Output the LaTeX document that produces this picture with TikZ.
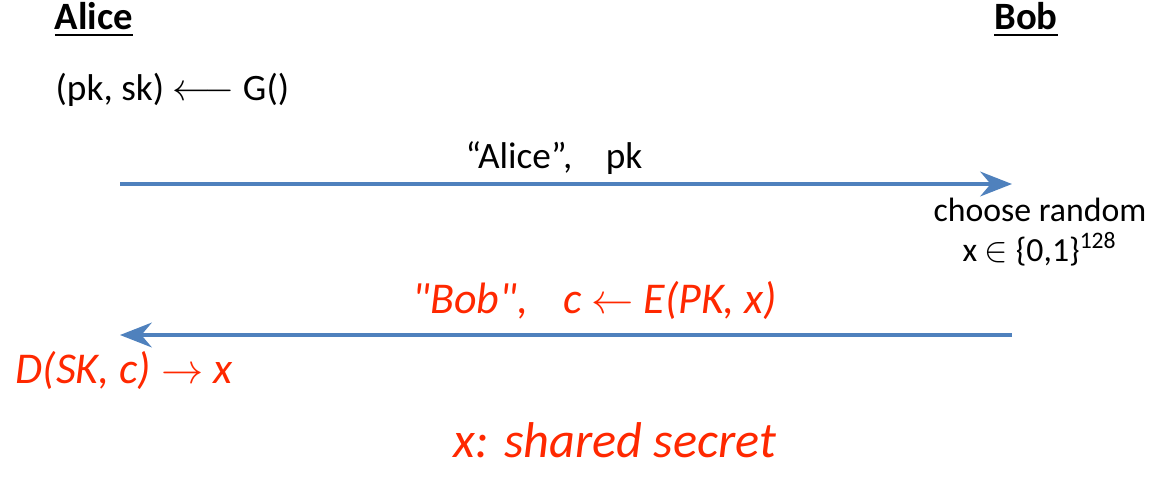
\documentclass[tikz,border=0pt]{standalone}
\usepackage{fontspec}
\setmainfont{Carlito}
\newfontfamily\penfont{Carlito Italic}[Ligatures=TeXOff]
\usetikzlibrary{arrows.meta}
\definecolor{msgblue}{RGB}{79,129,189}
\definecolor{penred}{RGB}{255,40,0}
\begin{document}
\begin{tikzpicture}[x=0.01cm,y=-0.01cm,
    msg/.style={draw=msgblue, line width=1.2pt, -{Stealth[length=9pt,width=7pt]}},
    pen/.style={text=penred, font=\fontsize{12.5}{15}\penfont},
    plain/.style={font=\fontsize{10.6}{13}\selectfont}]

    % Fix the frame of the picture
    \useasboundingbox (0,0) rectangle (1160,481);

    % Parties
    \node[plain, font=\fontsize{11}{13}\selectfont\bfseries] (alice) at (94,20) {\underline{Alice}};
    \node[plain, font=\fontsize{11}{13}\selectfont\bfseries] (bob) at (1026,20) {\underline{Bob}};

    % Key generation by Alice
    \node[plain, anchor=west, inner sep=0pt] (keygen) at (55,90) {(pk, sk) $\longleftarrow$ G()};

    % End points of the two messages
    \coordinate (aliceL) at (120,184);
    \coordinate (bobR) at (1012,184);
    \coordinate (bobR2) at (1012,335);
    \coordinate (aliceL2) at (120,335);

    % First message: Alice to Bob
    \draw[msg] (aliceL) -- (bobR);
    \node[plain] (msgA) at (554,158) {“Alice”,\hspace{0.9em}pk};

    % Bob picks the secret
    \node[align=center, inner sep=1pt, font=\fontsize{9.6}{11.5}\selectfont] (choose) at (1040,232)
        {choose random\\ x $\in$ \{0,1\}\textsuperscript{128}};

    % Second message: Bob to Alice (handwritten)
    \draw[msg] (bobR2) -- (aliceL2);
    \node[pen] (msgB) at (595,300) {"Bob",\hspace{0.8em}c $\leftarrow$ E(PK, x)};

    % Alice decrypts
    \node[pen, anchor=west, inner sep=0pt] (decrypt) at (15,370) {D(SK, c) $\rightarrow$ x};

    % The result
    \node[pen, font=\fontsize{14.3}{17}\penfont] (secret) at (615,440) {x: shared secret};

\end{tikzpicture}
\end{document}
